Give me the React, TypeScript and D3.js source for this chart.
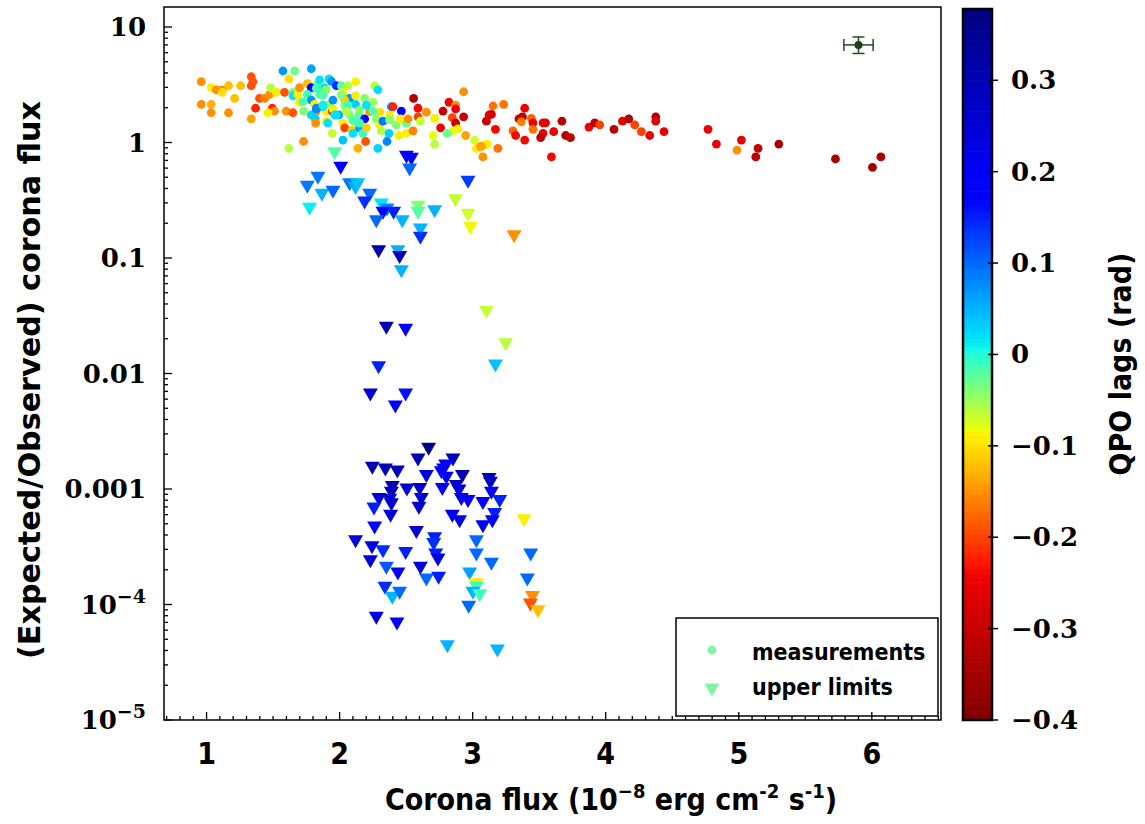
import React from "react";
import * as d3 from "d3";

// measurements (circles): corona flux, expected/observed ratio, QPO lag
const measFlux = [
  0.96, 1.035, 1.073, 1.118, 1.118, 1.165, 1.256, 1.211, 0.96, 1.035,
  1.035, 1.165, 1.336, 1.348, 1.336, 1.336, 1.398, 1.436, 1.368, 1.474,
  1.481, 1.524, 1.494, 1.511, 1.461, 1.574, 1.662, 1.787, 1.619, 1.586,
  1.649, 1.649, 1.686, 1.699, 1.599, 1.649, 1.699, 1.729, 1.757, 1.787,
  1.757, 1.787, 1.812, 1.825, 1.817, 1.82, 1.837, 1.887, 1.874, 1.92,
  1.938, 1.975, 1.925, 1.9, 1.9, 1.912, 1.945, 1.95, 1.995, 2.013,
  2.025, 2.062, 2.12, 2.075, 2.12, 2.038, 2.038, 2.12, 2.025, 2.038,
  2.095, 2.075, 2.145, 2.188, 2.15, 2.1, 2.175, 2.201, 2.188, 2.25,
  2.263, 2.288, 2.226, 2.301, 2.276, 2.301, 2.326, 2.314, 2.371, 2.356,
  2.376, 2.389, 2.401, 2.376, 2.426, 2.464, 2.456, 2.502, 2.514, 2.446,
  2.502, 2.551, 2.556, 2.589, 2.589, 2.607, 2.652, 2.714, 2.702, 2.714,
  2.759, 2.777, 2.822, 2.872, 2.872, 2.847, 2.872, 2.932, 2.932, 2.889,
  2.852, 2.807, 2.947, 3.015, 3.028, 3.058, 3.077, 3.103, 3.103, 3.123,
  1.945, 2.025, 2.195, 2.138, 2.288, 1.729, 1.619, 1.787, 1.825, 1.874,
  1.95, 1.963, 2.1, 3.153, 3.233, 3.141, 3.171, 3.108, 3.065, 3.19,
  3.303, 3.323, 3.391, 3.348, 3.374, 3.366, 3.441, 3.453, 3.453, 3.391,
  3.529, 3.548, 3.529, 3.511, 3.609, 3.592, 3.671, 3.699, 3.735, 3.874,
  3.917, 3.955, 4.062, 4.126, 4.173, 4.218, 4.268, 4.331, 4.376, 4.376,
  4.438, 4.769, 4.832, 5.02, 4.987, 5.145, 5.128, 5.301, 5.727, 6.005,
  6.068, 1.825, 1.874, 1.975, 2.125, 1.85, 1.825, 1.9, 2.013, 2.062,
  2.15, 2.201, 2.25, 2.05, 1.85, 1.724, 2.15,
];
const measRatio = [
  3.36, 2.98, 2.85, 2.85, 2.72, 3.1, 3.1, 2.41, 2.14, 2.14,
  1.81, 1.81, 3.71, 3.36, 3.1, 1.6, 2.41, 2.41, 1.98, 2.61,
  2.98, 2.72, 1.98, 1.87, 1.81, 4.16, 4.16, 4.35, 3.55, 2.72,
  2.72, 2.54, 2.61, 2.98, 1.87, 1.81, 2.23, 1.87, 3.23, 2.98,
  2.61, 2.33, 2.14, 1.87, 1.6, 1.47, 3.23, 2.98, 2.59, 3.55,
  3.39, 3.1, 2.14, 1.87, 1.53, 1.47, 1.87, 1.95, 1.73, 3.1,
  2.72, 3.1, 3.36, 2.41, 2.54, 2.33, 2.11, 2.14, 1.47, 1.34,
  1.28, 1.73, 1.73, 1.6, 1.33, 1.2, 1.2, 1.34, 2.41, 2.23,
  3.1, 2.85, 1.85, 1.83, 1.6, 1.42, 1.53, 1.26, 1.2, 1.02,
  1.73, 2.04, 2.04, 1.57, 1.42, 1.87, 1.6, 1.47, 1.6, 1.15,
  1.2, 1.26, 2.41, 1.98, 1.67, 1.53, 1.83, 1.62, 1.15, 0.965,
  1.34, 1.87, 2.23, 2.11, 1.95, 1.64, 1.47, 1.67, 2.75, 1.31,
  1.26, 1.2, 1.15, 1.05, 0.89, 0.92, 0.75, 0.965, 1.53, 1.73,
  1.2, 1.05, 1.02, 0.89, 0.89, 1.02, 0.89, 1.73, 1.95, 2.04,
  2.33, 1.73, 1.55, 2.07, 2.14, 1.75, 1.3, 0.97, 0.93, 0.89,
  1.26, 1.15, 1.98, 1.6, 1.67, 1.51, 1.62, 1.48, 1.3, 1.05,
  1.48, 1.48, 1.2, 1.1, 1.24, 0.75, 1.53, 1.15, 1.1, 1.36,
  1.48, 1.42, 1.3, 1.53, 1.6, 1.42, 1.24, 1.15, 1.67, 1.53,
  1.24, 1.3, 0.97, 1.05, 0.86, 0.89, 0.75, 0.97, 0.72, 0.61,
  0.75, 1.98, 2.11, 1.73, 1.51, 2.61, 2.94, 2.85, 2.58, 2.11,
  1.91, 2.11, 1.87, 1.87, 3.48, 2.25, 1.47,
];
const measLag = [
  -0.15, -0.09, -0.15, -0.15, -0.1, -0.12, -0.12, -0.12, -0.15, -0.13,
  -0.15, -0.15, -0.19, -0.19, -0.19, -0.14, -0.19, -0.16, -0.22, -0.15,
  -0.06, -0.09, -0.22, -0.15, -0.09, 0.07, -0.03, 0.06, -0.1, -0.19,
  -0.04, 0.02, -0.09, -0.15, -0.15, -0.19, -0.09, -0.04, -0.12, 0.18,
  -0.01, 0.07, -0.09, -0.15, 0.03, -0.15, -0.05, 0.02, -0.01, 0.02,
  0.07, 0.14, -0.04, -0.09, -0.09, 0.02, -0.22, -0.09, 0.06, -0.02,
  -0.09, -0.06, -0.09, 0.07, -0.09, -0.11, -0.04, 0.03, -0.09, -0.2,
  -0.11, -0.04, -0.02, 0.17, 0.07, 0.02, -0.01, -0.11, -0.04, -0.05,
  -0.06, 0.02, -0.15, -0.1, -0.04, -0.09, 0.09, -0.06, 0.03, 0.08,
  -0.09, 0.08, -0.22, -0.04, -0.04, 0.18, -0.09, -0.03, -0.15, -0.09,
  -0.09, -0.16, -0.33, -0.24, -0.2, -0.065, -0.15, -0.09, -0.08, -0.06,
  -0.25, -0.3, -0.24, -0.15, -0.25, -0.2, -0.3, -0.3, -0.15, -0.09,
  -0.08, -0.03, -0.14, -0.07, -0.09, -0.14, -0.15, -0.09, -0.3, -0.25,
  -0.065, 0.04, -0.19, -0.13, 0.03, -0.15, -0.06, 0.03, 0.07, 0.02,
  0.07, 0.02, -0.02, -0.17, -0.17, -0.27, -0.24, -0.09, -0.14, -0.17,
  -0.18, -0.24, -0.25, -0.31, -0.3, -0.16, -0.18, -0.25, -0.17, -0.24,
  -0.26, -0.26, -0.25, -0.31, -0.25, -0.24, -0.32, -0.32, -0.32, -0.25,
  -0.31, -0.2, -0.32, -0.25, -0.32, -0.2, -0.2, -0.25, -0.33, -0.27,
  -0.25, -0.25, -0.25, -0.26, -0.15, -0.3, -0.32, -0.34, -0.35, -0.35,
  -0.34, 0.08, 0.01, 0.02, -0.02, -0.02, -0.01, -0.04, -0.04, -0.01,
  -0.04, 0.02, -0.02, -0.06, 0.02, -0.02, -0.01,
];

// upper limits (triangles)
const ulFlux = [
  1.962, 2.008, 1.837, 1.757, 1.867, 1.95, 2.075, 2.12, 2.135, 1.774,
  2.226, 2.188, 2.314, 2.356, 2.326, 2.406, 2.276, 2.471, 2.502, 2.539,
  2.526, 2.589, 2.589, 2.714, 2.607, 2.607, 2.965, 2.87, 2.965, 2.983,
  3.311, 2.293, 2.438, 2.451, 2.464, 3.103, 2.351, 2.496, 3.248, 2.293,
  3.171, 2.231, 2.496, 2.419, 2.669, 2.589, 2.852, 2.246, 2.344, 2.434,
  2.797, 2.782, 2.765, 2.652, 2.802, 2.923, 3.123, 3.133, 2.396, 2.506,
  2.602, 2.389, 2.772, 2.877, 2.897, 3.141, 2.295, 2.376, 2.614, 2.915,
  2.965, 3.077, 3.203, 2.258, 2.389, 2.596, 2.383, 2.847, 2.902, 3.165,
  3.148, 3.077, 3.386, 2.263, 2.577, 2.714, 2.707, 3.028, 2.12, 2.243,
  2.326, 2.496, 2.722, 2.739, 3.028, 3.141, 3.436, 2.231, 2.351, 2.607,
  2.438, 2.652, 2.744, 2.977, 3.028, 3.028, 3.002, 3.053, 3.411, 2.341,
  2.396, 2.451, 3.449, 3.434, 3.491, 2.97, 2.276, 2.431, 2.81, 3.186,
];
const ulRatio = [
  0.8, 0.6, 0.49, 0.41, 0.35, 0.37, 0.43, 0.4, 0.43, 0.264,
  0.35, 0.3, 0.288, 0.26, 0.244, 0.244, 0.206, 0.206, 0.744, 0.716,
  0.578, 0.275, 0.244, 0.252, 0.175, 0.148, 0.452, 0.313, 0.234, 0.181,
  0.153, 0.1135, 0.1135, 0.101, 0.076, 0.0339, 0.0246, 0.0237, 0.0177, 0.0112,
  0.0116, 0.00652, 0.00652, 0.00513, 0.00221, 0.00178, 0.00178, 0.00151, 0.00146, 0.0014,
  0.00158, 0.00146, 0.00138, 0.00128, 0.00124, 0.00128, 0.00121, 0.00112, 0.00103, 0.00098,
  0.00099, 0.00092, 0.00099, 0.00105, 0.00096, 0.00092, 0.00081, 0.0008, 0.00081, 0.00081,
  0.00078, 0.00075, 0.00078, 0.00067, 0.00073, 0.00068, 0.00058, 0.00058, 0.00052, 0.0006,
  0.00052, 0.00047, 0.00053, 0.00046, 0.00042, 0.00037, 0.00033, 0.00035, 0.00035, 0.00031,
  0.000286, 0.000277, 0.000268, 0.000243, 0.000268, 0.000223, 0.000268, 0.000235, 0.000206, 0.000206,
  0.000184, 0.000163, 0.000169, 0.000184, 0.000148, 0.000139, 0.000125, 0.000119, 0.000163, 0.000138,
  0.000113, 0.000125, 0.000115, 0.0000991, 0.0000867, 0.0000946, 0.000076, 0.0000678, 0.0000431, 0.0000396,
];
const ulLag = [
  -0.02, 0.17, 0.09, 0.09, 0.05, 0.1, 0.09, 0.05, 0.04, 0.01,
  0.1, 0.14, 0.02, 0.08, 0.19, 0.15, 0.1, 0.05, 0.18, 0.18,
  0.1, -0.04, -0.02, 0.05, 0.05, 0.14, 0.13, -0.065, -0.07, -0.085,
  -0.15, 0.3, 0.05, 0.3, 0.05, -0.065, 0.31, 0.18, -0.06, 0.15,
  0.04, 0.25, 0.16, 0.19, 0.36, 0.3, 0.3, 0.3, 0.3, 0.29,
  0.2, 0.2, 0.19, 0.25, 0.2, 0.3, 0.29, 0.28, 0.3, 0.26,
  0.26, 0.3, 0.21, 0.28, 0.25, 0.19, 0.25, 0.26, 0.26, 0.2,
  0.2, 0.19, 0.15, 0.15, 0.26, 0.26, 0.25, 0.2, 0.24, 0.15,
  0.19, 0.19, -0.09, 0.19, 0.25, 0.15, 0.14, 0.1, 0.24, 0.23,
  0.14, 0.15, 0.15, 0.24, 0.1, 0.1, 0.1, 0.24, 0.11, 0.25,
  0.19, 0.1, 0.15, 0.06, -0.09, -0.01, 0.05, -0.01, 0.1, 0.14,
  0.05, 0.1, -0.15, -0.19, -0.12, 0.1, 0.24, 0.19, 0.05, 0.05,
];

// typical uncertainty marker
const errFlux = [5.9];
const errRatio = [7.0];
const errFluxErr = [0.11];
const errRatioLo = [5.9];
const errRatioHi = [8.2];

const xTicks = [1, 2, 3, 4, 5, 6];
const yTicks = [10, 1, 0.1, 0.01, 0.001, 1e-4, 1e-5];
const yTickBase = ["10", "1", "0.1", "0.01", "0.001", "10", "10"];
const yTickSup = ["", "", "", "", "", "\u22124", "\u22125"];
const cbTicks = [0.3, 0.2, 0.1, 0, -0.1, -0.2, -0.3, -0.4];

// jet colormap, stretched as in the colour bar
const jetR = d3.scaleLinear().domain([0, 0.35, 0.66, 0.89, 1]).range([0, 0, 1, 1, 0.5]).clamp(true);
const jetG = d3.scaleLinear().domain([0, 0.125, 0.375, 0.64, 0.91, 1]).range([0, 0, 1, 1, 0, 0]).clamp(true);
const jetB = d3.scaleLinear().domain([0, 0.11, 0.34, 0.65, 1]).range([0.5, 1, 1, 0, 0]).clamp(true);
const lagNorm = d3.scaleLinear()
  .domain([-0.4, -0.236, -0.086, 0.01, 0.174, 0.378])
  .range([1, 0.9, 0.65, 0.36, 0.12, 0])
  .clamp(true);
const lagColor = (v: number) => {
  const t = lagNorm(v);
  return d3.rgb(jetR(t) * 255, jetG(t) * 255, jetB(t) * 255).formatHex();
};

const serif = "'DejaVu Serif', serif";
const sans = "'DejaVu Sans Condensed', 'DejaVu Sans', sans-serif";

const L = 164, R = 941, T = 7, B = 720;
const triW = 15, triH = 13;
const triPath = `M0,${triH / 2}L${-triW / 2},${-triH / 2}L${triW / 2},${-triH / 2}Z`;

export default function App() {
  const x = d3.scaleLinear().domain([0.68, 6.52]).range([L, R]);
  const y = d3.scaleLog().domain([1e-5, 14.9]).range([B, T]);
  const cb = d3.scaleLinear().domain([-0.4, 0.378]).range([720, 9]);

  const yMinor: number[] = [];
  for (let e = -5; e <= 1; e++) {
    for (let k = 2; k <= 9; k++) {
      const v = k * Math.pow(10, e);
      if (v < 14.9) yMinor.push(v);
    }
  }
  const xMinor = d3.range(7, 66).map((i) => i / 10).filter((v) => Math.abs(v - Math.round(v)) > 1e-6);

  const nBands = 160;
  const bandStep = 0.778 / nBands;
  const bands = d3.range(nBands).map((i) => -0.4 + i * bandStep);

  return (
    <svg width={1145} height={824} style={{ position: "absolute", left: 0, top: 0, background: "#fff" }}>
      <rect x={0} y={0} width={1145} height={824} fill="#fff" />

      {/* measurements */}
      <g>
        {measFlux.map((f, i) => (
          <circle key={"m" + i} cx={x(f)} cy={y(measRatio[i])} r={4.4} fill={lagColor(measLag[i])} />
        ))}
      </g>

      {/* upper limits */}
      <g>
        {ulFlux.map((f, i) => (
          <path key={"u" + i} d={triPath} transform={`translate(${x(f)},${y(ulRatio[i])})`} fill={lagColor(ulLag[i])} />
        ))}
      </g>

      {/* error bar sample */}
      <g stroke="#234a23" strokeWidth={1.5} fill="none">
        {errFlux.map((f, i) => {
          const cx = x(f), cy = y(errRatio[i]);
          const x0 = x(f - errFluxErr[i]), x1 = x(f + errFluxErr[i]);
          const y0 = y(errRatioLo[i]), y1 = y(errRatioHi[i]);
          return (
            <g key={"e" + i}>
              <line x1={x0} x2={x1} y1={cy} y2={cy} />
              <line x1={cx} x2={cx} y1={y0} y2={y1} />
              <line x1={x0} x2={x0} y1={cy - 6} y2={cy + 6} />
              <line x1={x1} x2={x1} y1={cy - 6} y2={cy + 6} />
              <line x1={cx - 6} x2={cx + 6} y1={y0} y2={y0} />
              <line x1={cx - 6} x2={cx + 6} y1={y1} y2={y1} />
              <circle cx={cx} cy={cy} r={4} fill="#1d3f1d" stroke="none" />
            </g>
          );
        })}
      </g>

      {/* legend */}
      <g>
        <rect x={676} y={618} width={262} height={98} fill="#fff" stroke="#000" strokeWidth={1.5} />
        <circle cx={712} cy={650} r={4.4} fill="#7ff5a0" />
        <path d={triPath} transform="translate(712,690)" fill="#7ff5a0" />
        <text x={752} y={660} fontFamily={sans} fontWeight="bold" fontSize={23}>measurements</text>
        <text x={752} y={695} fontFamily={sans} fontWeight="bold" fontSize={23}>upper limits</text>
      </g>

      {/* axes frame and ticks */}
      <rect x={L} y={T} width={R - L} height={B - T} fill="none" stroke="#000" strokeWidth={1.5} />
      <g stroke="#000" strokeWidth={1.3}>
        {xTicks.map((t) => (
          <line key={"xt" + t} x1={x(t)} x2={x(t)} y1={B} y2={B - 8} />
        ))}
        {xMinor.map((t) => (
          <line key={"xm" + t} x1={x(t)} x2={x(t)} y1={B} y2={B - 4} />
        ))}
        {yTicks.map((t) => (
          <line key={"yt" + t} x1={L} x2={L + 8} y1={y(t)} y2={y(t)} />
        ))}
        {yMinor.map((t) => (
          <line key={"ym" + t} x1={L} x2={L + 4} y1={y(t)} y2={y(t)} />
        ))}
      </g>
      <g fontFamily={sans} fontWeight="bold" fontSize={30} textAnchor="middle">
        {xTicks.map((t) => (
          <text key={"xl" + t} x={x(t)} y={764}>{t}</text>
        ))}
      </g>
      <g fontFamily={serif} fontWeight="bold" fontSize={26} textAnchor="end">
        {yTicks.map((t, i) => (
          <text key={"yl" + t} x={146} y={y(t) + 9}>
            {yTickBase[i]}
            {yTickSup[i] && (
              <tspan fontSize={19} dy={-11}>{yTickSup[i]}</tspan>
            )}
          </text>
        ))}
      </g>

      <text x={611} y={810} fontFamily={sans} fontWeight="bold" fontSize={30} textAnchor="middle">
        Corona flux (10<tspan fontSize={20} dy={-12}>{"\u22128"}</tspan>
        <tspan dy={12}> erg cm</tspan>
        <tspan fontSize={20} dy={-12}>-2</tspan>
        <tspan dy={12}> s</tspan>
        <tspan fontSize={20} dy={-12}>-1</tspan>
        <tspan dy={12}>)</tspan>
      </text>
      <text transform="translate(40,380) rotate(-90)" fontFamily={sans} fontWeight="bold" fontSize={31}
        textAnchor="middle" textLength={558} lengthAdjust="spacingAndGlyphs">
        (Expected/Observed) corona flux
      </text>

      {/* colour bar */}
      <g>
        {bands.map((v, i) => (
          <rect key={"cb" + i} x={963} width={29} y={cb(v + bandStep)} height={cb(v) - cb(v + bandStep) + 0.6} fill={lagColor(v + bandStep / 2)} />
        ))}
        <rect x={963} y={9} width={29} height={711} fill="none" stroke="#000" strokeWidth={2.5} />
        <g stroke="#000" strokeWidth={1.5}>
          {cbTicks.map((t) => (
            <line key={"cbt" + t} x1={988} x2={998} y1={cb(t)} y2={cb(t)} />
          ))}
        </g>
        <g fontFamily={serif} fontWeight="bold" fontSize={26}>
          {cbTicks.map((t) => (
            <text key={"cbl" + t} x={1011} y={cb(t) + 9}>
              {t < 0 ? "\u2212" + Math.abs(t) : String(t)}
            </text>
          ))}
        </g>
        <text transform="translate(1131,364) rotate(-90)" fontFamily={sans} fontWeight="bold" fontSize={30} textAnchor="middle">
          QPO lags (rad)
        </text>
      </g>
    </svg>
  );
}
